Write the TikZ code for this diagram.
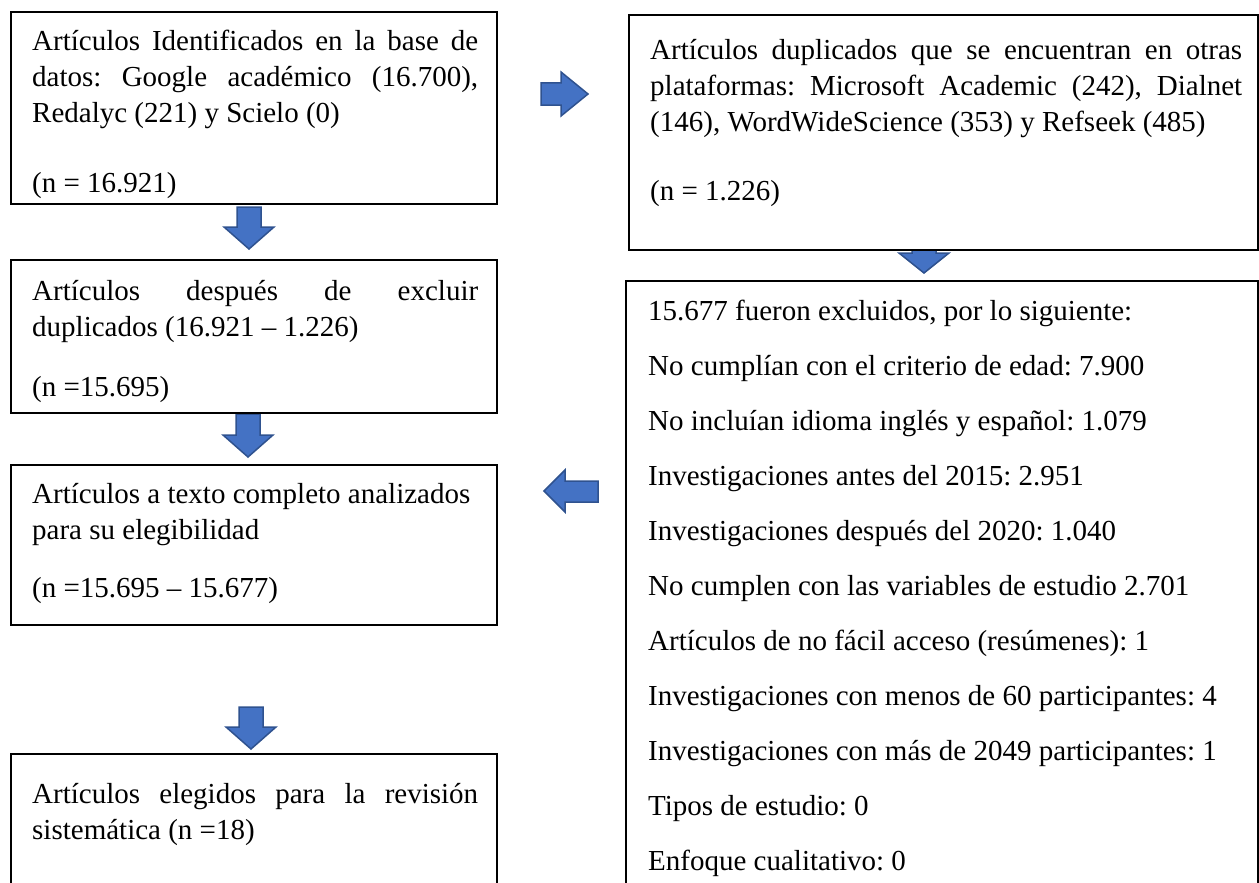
\documentclass[tikz,border=0pt]{standalone}
\usepackage{fontspec}
\setmainfont{Liberation Serif}
\definecolor{arrfill}{HTML}{4472C4}
\definecolor{arrline}{HTML}{2F528F}
\begin{document}
\frenchspacing
\begin{tikzpicture}[x=1pt,y=-1pt,
  boxstyle/.style={draw=black, line width=2pt, fill=white, anchor=north west, inner sep=0pt},
  txt/.style={anchor=north west, inner sep=0pt, text width=446pt, align=justify,
              font=\fontsize{29}{36}\selectfont\frenchspacing},
  rtxt/.style={txt, text width=592pt},
  blkarrow/.style={fill=arrfill, draw=arrline, line width=1.5pt, line join=miter}]
\useasboundingbox (0,0) rectangle (1259,883);
\fill[white] (0,0) rectangle (1259,883);

% block arrows
\filldraw[blkarrow] (237,207) -- (261,207) -- (261,227) -- (274,227) -- (249,249) -- (224,227) -- (237,227) -- cycle;
\filldraw[blkarrow] (236,414) -- (260,414) -- (260,435) -- (273,435) -- (248,457) -- (223,435) -- (236,435) -- cycle;
\filldraw[blkarrow] (239,707) -- (263,707) -- (263,727) -- (276,727) -- (251,749) -- (226,727) -- (239,727) -- cycle;
\filldraw[blkarrow] (912,230) -- (936,230) -- (936,253) -- (949,253) -- (924,273) -- (899,253) -- (912,253) -- cycle;
\filldraw[blkarrow] (541,83) -- (561,83) -- (561,72) -- (588,94) -- (561,116) -- (561,105) -- (541,105) -- cycle;
\filldraw[blkarrow] (598,481) -- (565,481) -- (565,470) -- (544,491) -- (565,512) -- (565,502) -- (598,502) -- cycle;

% boxes
\node[boxstyle, minimum width=486pt, minimum height=192pt] (b1) at (10,11) {};
\node[boxstyle, minimum width=486pt, minimum height=153pt] (b2) at (10,259) {};
\node[boxstyle, minimum width=486pt, minimum height=160pt] (b3) at (10,464) {};
\node[boxstyle, minimum width=486pt, minimum height=160pt] (b4) at (10,753) {};
\node[boxstyle, minimum width=629pt, minimum height=235pt] (r1) at (628,14) {};
\node[boxstyle, minimum width=632pt, minimum height=620pt] (r2) at (625,280) {};

% texts
\node[txt] (t1) at (32,25) {\strut Artículos Identificados en la base de\linebreak datos: Google académico (16.700),\linebreak Redalyc (221) y Scielo (0)\par\vspace{34pt}\strut(n = 16.921)};
\node[txt] (t2) at (32,275) {\strut Artículos después de excluir\linebreak duplicados (16.921 – 1.226)\par\vspace{24pt}\strut(n =15.695)};
\node[txt] (t3) at (32,478) {\strut Artículos a texto completo analizados\\ para su elegibilidad\par\vspace{22pt}\strut(n =15.695 – 15.677)};
\node[txt] (t4) at (32,778) {\strut Artículos elegidos para la revisión\linebreak sistemática (n =18)};
\node[rtxt] (u1) at (650,34) {\strut Artículos duplicados que se encuentran en otras\linebreak plataformas: Microsoft Academic (242), Dialnet\linebreak (146), WordWideScience (353) y Refseek (485)\par\vspace{33pt}\strut(n = 1.226)};
\node[rtxt] (u2) at (648,295) {\setlength\parskip{19pt}\strut 15.677 fueron excluidos, por lo siguiente:\par
\strut No cumplían con el criterio de edad: 7.900\par
\strut No incluían idioma inglés y español: 1.079\par
\strut Investigaciones antes del 2015: 2.951\par
\strut Investigaciones después del 2020: 1.040\par
\strut No cumplen con las variables de estudio 2.701\par
\strut Artículos de no fácil acceso (resúmenes): 1\par
\strut Investigaciones con menos de 60 participantes: 4\par
\strut Investigaciones con más de 2049 participantes: 1\par
\strut Tipos de estudio: 0\par
\strut Enfoque cualitativo: 0};
\end{tikzpicture}
\end{document}
